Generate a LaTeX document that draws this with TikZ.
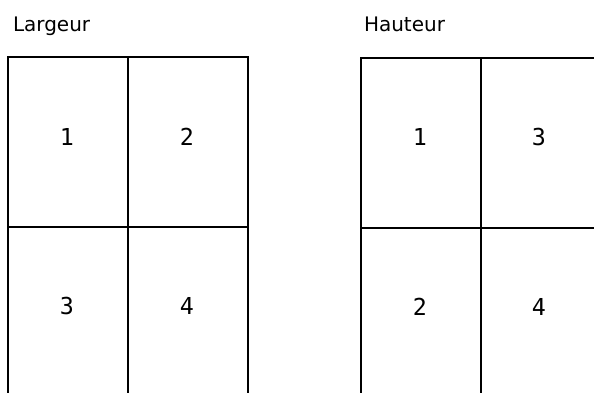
\documentclass[tikz,border=0pt]{standalone}
\usepackage{fontspec}
\setmainfont{DejaVu Sans}
\newfontfamily\pagenum{DejaVu Sans Mono}

\begin{document}
\begin{tikzpicture}[x=0.75pt, y=-0.75pt, line width=1.5pt,
  titre/.style={anchor=base west, inner sep=0pt, font=\fontsize{15}{18}\selectfont},
  chiffre/.style={inner sep=0pt, font=\pagenum\fontsize{17.5}{20}\selectfont}]
\useasboundingbox (0,0) rectangle (594,393);
% Largeur
\node[titre] (largeur) at (12,31) {Largeur};
\draw (8,393) -- (8,57) -- (248,57) -- (248,393);
\draw (128,57) -- (128,393);
\draw (8,227) -- (248,227);
\foreach \x/\y/\val in {67/137/1, 187/137/2, 67/306/3, 187/306/4} {
\node[chiffre] (l\val) at (\x,\y) {\val};
}
% Hauteur
\node[titre] (hauteur) at (363,31) {Hauteur};
\draw (361,393) -- (361,58) -- (594,58);
\draw (481,58) -- (481,393);
\draw (361,228) -- (594,228);
\foreach \x/\y/\val in {420/137/1, 539/137/3, 420/307/2, 539/307/4} {
\node[chiffre] (h\val) at (\x,\y) {\val};
}
\end{tikzpicture}
\end{document}
